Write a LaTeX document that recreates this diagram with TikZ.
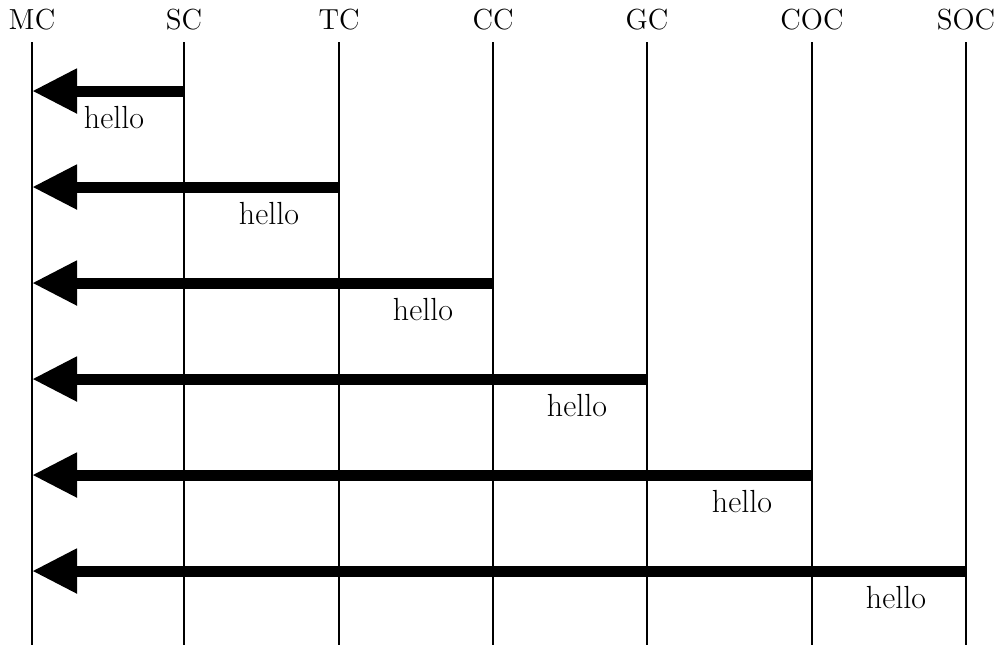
\documentclass[tikz,border=0pt]{standalone}
\usepackage{tikz}
\usetikzlibrary{positioning, arrows.meta}

\begin{document}
\begin{tikzpicture}[x=0.5pt,y=-0.5pt,
  inst/.style={font=\fontsize{14.5}{17}\selectfont, inner sep=0pt},
  msglabel/.style={font=\fontsize{16}{19}\selectfont, inner sep=0pt},
  msg/.style={line width=5.5pt, -{Triangle[length=22.5pt,width=21pt]}},
  life/.style={line width=1pt}]
\useasboundingbox (0,0) rectangle (1000,645);
% instances and their lifelines
\foreach \lab/\x in {MC/32, SC/184, TC/339, CC/493, GC/647, COC/812, SOC/966} {
  \node[inst] (\lab) at (\x,20) {\lab};
  \coordinate (\lab top) at (\x,42);
  \coordinate (\lab bot) at (\x,645);
  \draw[life] (\lab top) -- (\lab bot);
}
% messages to MC
\foreach \from/\y [count=\i] in {SC/91, TC/187, CC/283, GC/379, COC/475, SOC/571} {
  \coordinate (snd\i) at (\from |- 0,\y);
  \coordinate (rcv\i) at (MC |- 0,\y);
  \draw[msg] (snd\i) -- (rcv\i);
  \node[msglabel] (lbl\i) at ([shift={(-70,27)}]snd\i) {hello};
}
\end{tikzpicture}
\end{document}
